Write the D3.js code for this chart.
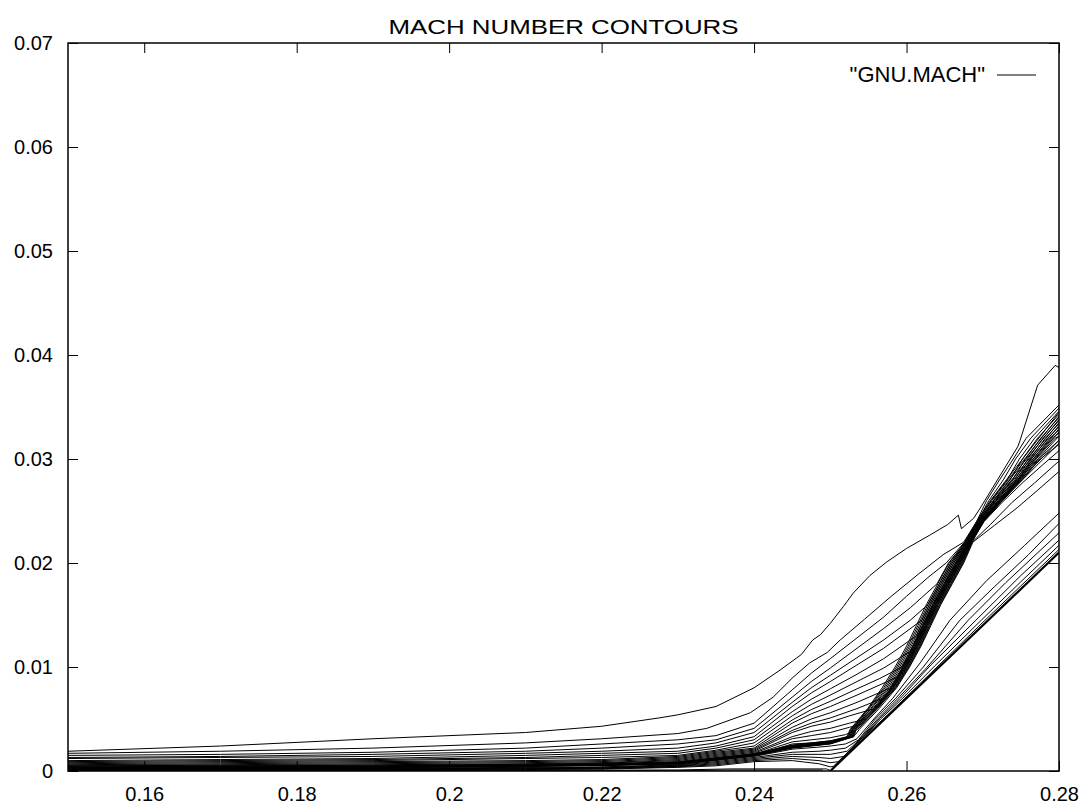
<!DOCTYPE html>
<html><head><meta charset="utf-8">
<script src="https://cdn.jsdelivr.net/npm/d3@7/dist/d3.min.js"></script>
<style>
body{margin:0;background:#fff}
text{font-family:"Liberation Sans",Arial,Helvetica,sans-serif;fill:#000}
</style>
</head><body>
<svg id="chart" width="1087" height="810"></svg>
<script>
// ---------- text / axes ----------
const chartTitle = "MACH NUMBER CONTOURS";
const legendLabel = '"GNU.MACH"';
const xDomain = [0.15, 0.28];
const yDomain = [0, 0.07];
const xTickValues = [0.16, 0.18, 0.20, 0.22, 0.24, 0.26, 0.28];
const xTickLabels = ["0.16", "0.18", "0.2", "0.22", "0.24", "0.26", "0.28"];
const yTickValues = [0, 0.01, 0.02, 0.03, 0.04, 0.05, 0.06, 0.07];
const yTickLabels = ["0", "0.01", "0.02", "0.03", "0.04", "0.05", "0.06", "0.07"];

// ---------- contour lines (x, y) ----------
const wedgeLine = [[0.25, 0], [0.28, 0.021]];

const outerContour = [[0.15,0.0019],[0.17,0.0024],[0.19,0.0031],[0.21,0.0037],[0.22,0.0043],[0.2275,0.0051],[0.23,0.0054],[0.235,0.0062],[0.24,0.008],[0.2434,0.0097],[0.2462,0.0112],[0.2477,0.0126],[0.2487,0.0131],[0.25,0.0142],[0.2517,0.0158],[0.253,0.0171],[0.2552,0.0188],[0.2574,0.0201],[0.26,0.0214],[0.2631,0.0227],[0.2654,0.0237],[0.2668,0.0246],[0.2672,0.0233],[0.2688,0.0243],[0.2696,0.0252],[0.2746,0.0312],[0.2749,0.0318],[0.2772,0.0371],[0.2795,0.039],[0.28,0.0388]];

// contours fanning out above the shock and merging into it
const shockContours = [
 [[0.15,0.0017],[0.17,0.0019],[0.19,0.0022],[0.21,0.0027],[0.22,0.0031],[0.23,0.0036],[0.2338,0.0041],[0.2395,0.0056],[0.2425,0.0071],[0.2451,0.009],[0.2473,0.0104],[0.2496,0.0114],[0.2513,0.0126],[0.2545,0.0146],[0.258,0.0168],[0.2615,0.0189],[0.2648,0.0208],[0.2675,0.022],[0.2692,0.024],[0.2705,0.026],[0.2722,0.028],[0.274,0.030],[0.2757,0.032],[0.28,0.0352]],
 [[0.15,0.0015],[0.17,0.0016],[0.19,0.0018],[0.21,0.0022],[0.22,0.0026],[0.23,0.003],[0.235,0.0034],[0.24,0.0046],[0.245,0.0078],[0.2475,0.0094],[0.25,0.0108],[0.2535,0.0128],[0.257,0.0148],[0.26,0.0168],[0.2628,0.0186],[0.2652,0.020],[0.2676,0.022],[0.2693,0.024],[0.2708,0.026],[0.2727,0.028],[0.2743,0.030],[0.2763,0.032],[0.28,0.0349]],
 [[0.15,0.0013],[0.17,0.0014],[0.19,0.0016],[0.21,0.0019],[0.22,0.0022],[0.23,0.0026],[0.235,0.003],[0.24,0.0041],[0.245,0.0071],[0.2475,0.0086],[0.25,0.0099],[0.2535,0.0118],[0.257,0.0137],[0.2605,0.0157],[0.264,0.018],[0.2655,0.020],[0.2677,0.022],[0.2694,0.024],[0.2711,0.026],[0.2732,0.028],[0.2748,0.030],[0.2768,0.032],[0.28,0.0346]],
 [[0.15,0.0012],[0.17,0.0013],[0.19,0.0014],[0.21,0.0017],[0.22,0.0019],[0.23,0.0022],[0.235,0.0027],[0.24,0.0037],[0.245,0.0066],[0.2475,0.008],[0.25,0.0092],[0.2535,0.0109],[0.257,0.0126],[0.2605,0.0145],[0.2628,0.016],[0.2643,0.018],[0.2658,0.020],[0.2678,0.022],[0.2695,0.024],[0.2714,0.026],[0.2736,0.028],[0.2752,0.030],[0.2772,0.032],[0.28,0.0343]],
 [[0.15,0.001],[0.17,0.0011],[0.19,0.0012],[0.21,0.0015],[0.22,0.0017],[0.23,0.0019],[0.235,0.0024],[0.24,0.0033],[0.245,0.0062],[0.2475,0.0075],[0.25,0.0086],[0.2535,0.0102],[0.257,0.0118],[0.262,0.0145],[0.263,0.016],[0.2645,0.018],[0.266,0.020],[0.2679,0.022],[0.2696,0.024],[0.2716,0.026],[0.2739,0.028],[0.2756,0.030],[0.2776,0.032],[0.28,0.034]],
 [[0.15,0.0009],[0.17,0.001],[0.19,0.0011],[0.21,0.0013],[0.22,0.0015],[0.23,0.0017],[0.235,0.0022],[0.24,0.003],[0.245,0.0057],[0.2475,0.0069],[0.25,0.0079],[0.2535,0.0093],[0.257,0.0108],[0.2613,0.013],[0.2619,0.014],[0.2632,0.016],[0.2647,0.018],[0.2662,0.020],[0.268,0.022],[0.2697,0.024],[0.2718,0.026],[0.2742,0.028],[0.2759,0.030],[0.2779,0.032],[0.28,0.0337]],
 [[0.15,0.0008],[0.17,0.0009],[0.19,0.001],[0.21,0.0012],[0.22,0.0013],[0.23,0.0015],[0.235,0.002],[0.24,0.0027],[0.245,0.0053],[0.2475,0.0064],[0.25,0.0073],[0.2535,0.0086],[0.257,0.0099],[0.2605,0.0115],[0.2608,0.012],[0.2621,0.014],[0.2634,0.016],[0.2649,0.018],[0.2664,0.020],[0.2681,0.022],[0.2698,0.024],[0.272,0.026],[0.2744,0.028],[0.2762,0.030],[0.2782,0.032],[0.28,0.0334]],
 [[0.15,0.0007],[0.17,0.0008],[0.19,0.0009],[0.21,0.001],[0.22,0.0011],[0.23,0.0014],[0.235,0.0019],[0.24,0.0024],[0.245,0.0049],[0.2475,0.0059],[0.25,0.0067],[0.2535,0.0079],[0.2565,0.0089],[0.2594,0.010],[0.2609,0.012],[0.2622,0.014],[0.2635,0.016],[0.265,0.018],[0.2665,0.020],[0.26815,0.022],[0.26985,0.024],[0.2721,0.026],[0.2746,0.028],[0.2764,0.030],[0.2785,0.032],[0.28,0.0331]],
 [[0.15,0.0006],[0.17,0.0007],[0.19,0.0008],[0.21,0.0009],[0.22,0.001],[0.23,0.0013],[0.235,0.0018],[0.24,0.0022],[0.245,0.0046],[0.2475,0.0055],[0.25,0.0062],[0.2535,0.0073],[0.2587,0.009],[0.2595,0.010],[0.261,0.012],[0.2623,0.014],[0.2636,0.016],[0.2651,0.018],[0.2666,0.020],[0.2682,0.022],[0.2699,0.024],[0.2722,0.026],[0.2747,0.028],[0.2766,0.030],[0.2788,0.032],[0.28,0.0328]],
 [[0.15,0.00055],[0.17,0.0006],[0.19,0.0007],[0.21,0.0008],[0.22,0.0009],[0.23,0.0012],[0.235,0.0017],[0.24,0.0021],[0.245,0.0042],[0.2475,0.005],[0.25,0.0056],[0.2535,0.0066],[0.2579,0.008],[0.2596,0.010],[0.2611,0.012],[0.2624,0.014],[0.2637,0.016],[0.2652,0.018],[0.2667,0.020],[0.26825,0.022],[0.26995,0.024],[0.2723,0.026],[0.2748,0.028],[0.2768,0.030],[0.2791,0.032],[0.28,0.0325]],
 [[0.15,0.0005],[0.17,0.00055],[0.19,0.0006],[0.21,0.0007],[0.22,0.0008],[0.23,0.0011],[0.235,0.0016],[0.24,0.002],[0.245,0.0039],[0.2475,0.0046],[0.25,0.0051],[0.2535,0.006],[0.2569,0.007],[0.258,0.008],[0.2597,0.010],[0.2612,0.012],[0.2625,0.014],[0.2638,0.016],[0.2653,0.018],[0.2668,0.020],[0.2683,0.022],[0.27,0.024],[0.2724,0.026],[0.2749,0.028],[0.277,0.030],[0.2795,0.032],[0.28,0.0322]],
 [[0.15,0.00045],[0.17,0.0005],[0.19,0.00055],[0.21,0.00065],[0.22,0.00075],[0.23,0.001],[0.235,0.0015],[0.24,0.0019],[0.245,0.0037],[0.2475,0.0043],[0.25,0.0047],[0.2525,0.0053],[0.2558,0.006],[0.2581,0.008],[0.2598,0.010],[0.2613,0.012],[0.2626,0.014],[0.2639,0.016],[0.2654,0.018],[0.2669,0.020],[0.26835,0.022],[0.27005,0.024],[0.2725,0.026],[0.275,0.028],[0.2773,0.030],[0.28,0.0318]],
 [[0.15,0.0004],[0.17,0.00045],[0.19,0.0005],[0.21,0.0006],[0.22,0.0007],[0.23,0.0009],[0.235,0.0014],[0.24,0.0018],[0.245,0.0033],[0.2475,0.0038],[0.25,0.0041],[0.2525,0.0046],[0.2547,0.005],[0.2559,0.006],[0.2582,0.008],[0.2599,0.010],[0.2614,0.012],[0.2627,0.014],[0.264,0.016],[0.2655,0.018],[0.267,0.020],[0.2684,0.022],[0.2701,0.024],[0.2726,0.026],[0.2752,0.028],[0.2772,0.0298],[0.28,0.0314]],
 [[0.15,0.00035],[0.17,0.0004],[0.19,0.00045],[0.21,0.00055],[0.22,0.00065],[0.23,0.0008],[0.235,0.0013],[0.24,0.0017],[0.245,0.0031],[0.2475,0.0034],[0.25,0.0037],[0.2525,0.0042],[0.2541,0.0045],[0.256,0.006],[0.2583,0.008],[0.26,0.010],[0.2615,0.012],[0.2628,0.014],[0.2641,0.016],[0.2656,0.018],[0.2671,0.020],[0.2685,0.022],[0.2702,0.024],[0.2725,0.0258],[0.2752,0.0277],[0.2778,0.0294],[0.28,0.0308]],
 [[0.15,0.0003],[0.17,0.00035],[0.19,0.0004],[0.21,0.0005],[0.22,0.0006],[0.23,0.0007],[0.235,0.0012],[0.24,0.0016],[0.245,0.0028],[0.2475,0.003],[0.25,0.0032],[0.252,0.0035],[0.2536,0.004],[0.2562,0.006],[0.2585,0.008],[0.2602,0.010],[0.2617,0.012],[0.263,0.014],[0.2643,0.016],[0.2658,0.018],[0.2673,0.020],[0.2686,0.022],[0.271,0.0237],[0.2738,0.0258],[0.2768,0.0277],[0.28,0.0298]],
 [[0.15,0.00025],[0.17,0.0003],[0.19,0.00035],[0.21,0.00045],[0.22,0.00055],[0.23,0.00065],[0.235,0.0011],[0.24,0.0015],[0.245,0.0026],[0.2475,0.0027],[0.25,0.0029],[0.2518,0.0031],[0.2533,0.0035],[0.2538,0.004],[0.2564,0.006],[0.2587,0.008],[0.2604,0.010],[0.2619,0.012],[0.2632,0.014],[0.2645,0.016],[0.266,0.018],[0.2675,0.020],[0.2687,0.022],[0.2715,0.0236],[0.2745,0.0253],[0.2772,0.027],[0.28,0.0288]]
];

// tightly packed contours forming the dark core of the shock
const coreContours = [
 [[0.15,0.00034],[0.19,0.00044],[0.22,0.00064],[0.23,0.00085],[0.235,0.00125],[0.24,0.00165],[0.245,0.0025],[0.25,0.0029],[0.2522,0.0033],[0.2526,0.004],[0.2549,0.006],[0.2568,0.008],[0.2585,0.010],[0.26,0.012],[0.2613,0.014],[0.2626,0.016],[0.2641,0.018],[0.2656,0.020],[0.2677,0.022],[0.2692,0.024],[0.271,0.026],[0.2731,0.028],[0.28,0.0345]],
 [[0.15,0.00032],[0.19,0.00042],[0.22,0.00062],[0.23,0.00083],[0.235,0.00123],[0.24,0.00163],[0.245,0.00245],[0.25,0.00285],[0.2523,0.0033],[0.2527,0.004],[0.255,0.006],[0.257,0.008],[0.2587,0.010],[0.2602,0.012],[0.2615,0.014],[0.2628,0.016],[0.2643,0.018],[0.2658,0.020],[0.2678,0.022],[0.2693,0.024],[0.2712,0.026],[0.2733,0.028],[0.28,0.0341]],
 [[0.15,0.0003],[0.19,0.0004],[0.22,0.0006],[0.23,0.0008],[0.235,0.0012],[0.24,0.0016],[0.245,0.0024],[0.25,0.0028],[0.2524,0.0033],[0.2528,0.004],[0.2551,0.006],[0.2572,0.008],[0.2589,0.010],[0.2604,0.012],[0.2617,0.014],[0.263,0.016],[0.2645,0.018],[0.266,0.020],[0.2679,0.022],[0.2694,0.024],[0.2714,0.026],[0.2735,0.028],[0.28,0.0338]],
 [[0.15,0.00029],[0.19,0.00039],[0.22,0.00059],[0.23,0.00079],[0.235,0.00118],[0.24,0.00158],[0.245,0.00237],[0.25,0.00277],[0.2525,0.0033],[0.2529,0.004],[0.2553,0.006],[0.2574,0.008],[0.2591,0.010],[0.2606,0.012],[0.2619,0.014],[0.2632,0.016],[0.2647,0.018],[0.2662,0.020],[0.268,0.022],[0.2695,0.024],[0.2715,0.026],[0.2738,0.028],[0.28,0.0335]],
 [[0.15,0.00028],[0.19,0.00038],[0.22,0.00058],[0.23,0.00078],[0.235,0.00116],[0.24,0.00156],[0.245,0.00234],[0.25,0.00274],[0.2526,0.0033],[0.2529,0.004],[0.2554,0.006],[0.2576,0.008],[0.2593,0.010],[0.2608,0.012],[0.2621,0.014],[0.2634,0.016],[0.2649,0.018],[0.2664,0.020],[0.2681,0.022],[0.2696,0.024],[0.2717,0.026],[0.274,0.028],[0.28,0.0332]],
 [[0.15,0.00027],[0.19,0.00037],[0.22,0.00057],[0.23,0.00077],[0.235,0.00114],[0.24,0.00154],[0.245,0.00231],[0.25,0.00271],[0.2527,0.0033],[0.253,0.004],[0.2556,0.006],[0.2578,0.008],[0.2595,0.010],[0.261,0.012],[0.2623,0.014],[0.2636,0.016],[0.2651,0.018],[0.2666,0.020],[0.2682,0.022],[0.2697,0.024],[0.2718,0.026],[0.2743,0.028],[0.28,0.0329]],
 [[0.15,0.00026],[0.19,0.00036],[0.22,0.00056],[0.23,0.00076],[0.235,0.00112],[0.24,0.00152],[0.245,0.00228],[0.25,0.00268],[0.2528,0.0033],[0.2531,0.004],[0.2557,0.006],[0.258,0.008],[0.2597,0.010],[0.2612,0.012],[0.2625,0.014],[0.2638,0.016],[0.2653,0.018],[0.2668,0.020],[0.2683,0.022],[0.2698,0.024],[0.272,0.026],[0.2745,0.028],[0.28,0.0326]],
 [[0.15,0.00025],[0.19,0.00035],[0.22,0.00055],[0.23,0.00075],[0.235,0.0011],[0.24,0.0015],[0.245,0.00225],[0.25,0.00265],[0.2529,0.0033],[0.2532,0.004],[0.2558,0.006],[0.2582,0.008],[0.2599,0.010],[0.2614,0.012],[0.2627,0.014],[0.264,0.016],[0.2655,0.018],[0.267,0.020],[0.2684,0.022],[0.2699,0.024],[0.2722,0.026],[0.2747,0.028],[0.28,0.0322]],
 [[0.15,0.00024],[0.19,0.00034],[0.22,0.00054],[0.23,0.00074],[0.235,0.00108],[0.24,0.00148],[0.245,0.00222],[0.25,0.00262],[0.253,0.0033],[0.2533,0.004],[0.256,0.006],[0.2584,0.008],[0.2601,0.010],[0.2616,0.012],[0.2629,0.014],[0.2642,0.016],[0.2657,0.018],[0.2672,0.020],[0.2685,0.022],[0.27,0.024],[0.2723,0.026],[0.275,0.028],[0.28,0.0318]],
 [[0.15,0.00023],[0.19,0.00033],[0.22,0.00053],[0.23,0.00073],[0.235,0.00106],[0.24,0.00146],[0.245,0.0022],[0.25,0.0026],[0.2531,0.0033],[0.2534,0.004],[0.2561,0.006],[0.2586,0.008],[0.2603,0.010],[0.2618,0.012],[0.2631,0.014],[0.2644,0.016],[0.2659,0.018],[0.2674,0.020],[0.2686,0.022],[0.2701,0.024],[0.2725,0.026],[0.2752,0.028],[0.28,0.0315]]
];

// contours between the shock and the wedge
const wedgeContours = [
 [[0.15,0.00022],[0.19,0.00027],[0.21,0.00035],[0.22,0.0004],[0.23,0.0006],[0.235,0.001],[0.24,0.0014],[0.245,0.0021],[0.2485,0.0023],[0.25,0.0024],[0.252,0.0026],[0.2535,0.0031],[0.2557,0.005],[0.2582,0.007],[0.2618,0.0104],[0.2657,0.0145],[0.2705,0.0183],[0.2755,0.0217],[0.28,0.0248]],
 [[0.15,0.0002],[0.19,0.00024],[0.21,0.0003],[0.22,0.00035],[0.23,0.00055],[0.235,0.0009],[0.24,0.0013],[0.245,0.0018],[0.2485,0.0019],[0.25,0.002],[0.252,0.0022],[0.2537,0.003],[0.2559,0.005],[0.2586,0.007],[0.2622,0.01],[0.267,0.0145],[0.2715,0.0177],[0.276,0.0208],[0.28,0.0238]],
 [[0.15,0.00017],[0.19,0.0002],[0.21,0.00026],[0.22,0.0003],[0.23,0.0005],[0.235,0.0008],[0.24,0.0012],[0.245,0.0016],[0.2485,0.0016],[0.25,0.0016],[0.2522,0.0019],[0.2538,0.003],[0.2562,0.005],[0.2589,0.007],[0.2626,0.0099],[0.2681,0.0145],[0.273,0.0181],[0.28,0.0229]],
 [[0.15,0.00014],[0.19,0.00017],[0.21,0.00022],[0.22,0.00026],[0.23,0.00045],[0.235,0.0007],[0.24,0.0011],[0.245,0.0014],[0.2485,0.0013],[0.25,0.0012],[0.2518,0.0014],[0.2539,0.003],[0.2564,0.005],[0.2592,0.007],[0.2632,0.0102],[0.2691,0.0145],[0.275,0.0188],[0.28,0.0222]],
 [[0.15,0.00011],[0.19,0.00013],[0.21,0.00018],[0.22,0.00022],[0.23,0.0004],[0.235,0.0006],[0.24,0.001],[0.245,0.0012],[0.2485,0.001],[0.25,0.0008],[0.2511,0.0009],[0.254,0.003],[0.2566,0.005],[0.2595,0.007],[0.2637,0.0101],[0.2698,0.0145],[0.275,0.0182],[0.28,0.0217]],
 [[0.15,0.00008],[0.19,0.0001],[0.21,0.00014],[0.22,0.00018],[0.23,0.00035],[0.235,0.0005],[0.24,0.0009],[0.245,0.001],[0.2485,0.0007],[0.25,0.0004],[0.2504,0.00045],[0.2541,0.0031],[0.2568,0.0049],[0.2598,0.007],[0.264,0.01],[0.2703,0.0145],[0.275,0.0178],[0.28,0.0213]]
];

const wallContours = [
 [[0.15,0.00005],[0.2,0.00005],[0.23,0.0001],[0.237,0.0002],[0.2495,0.0002],[0.25,0.00005]],
 [[0.15,0.00002],[0.23,0.00003],[0.237,0.0001],[0.249,0.0001]]
];

// ---------- drawing ----------
const m = {left: 68, right: 1059, top: 43, bottom: 771};
const svg = d3.select("#chart");
const x = d3.scaleLinear().domain(xDomain).range([m.left, m.right]);
const y = d3.scaleLinear().domain(yDomain).range([m.bottom, m.top]);

svg.append("defs").append("clipPath").attr("id", "plotClip")
  .append("rect").attr("x", m.left).attr("y", m.top)
  .attr("width", m.right - m.left).attr("height", m.bottom - m.top);

const line = d3.line().x(d => x(d[0])).y(d => y(d[1]));
const plot = svg.append("g").attr("clip-path", "url(#plotClip)");

const allContours = [outerContour, ...shockContours, ...coreContours, ...wedgeContours, ...wallContours];
plot.selectAll("path.contour").data(allContours).enter().append("path")
  .attr("class", "contour").attr("d", line)
  .attr("fill", "none").attr("stroke", "#000").attr("stroke-width", 1);

plot.append("path").attr("d", line(wedgeLine))
  .attr("fill", "none").attr("stroke", "#000").attr("stroke-width", 2.2);

// axes with inward ticks on all four sides
const fontSize = 20;
const bottomAxis = d3.axisBottom(x).tickValues(xTickValues)
  .tickFormat((d, i) => xTickLabels[i]).tickSizeInner(-10).tickSizeOuter(0).tickPadding(16);
const leftAxis = d3.axisLeft(y).tickValues(yTickValues)
  .tickFormat((d, i) => yTickLabels[i]).tickSizeInner(-10).tickSizeOuter(0).tickPadding(15);
const topAxis = d3.axisTop(x).tickValues(xTickValues).tickFormat("").tickSizeInner(-10).tickSizeOuter(0);
const rightAxis = d3.axisRight(y).tickValues(yTickValues).tickFormat("").tickSizeInner(-10).tickSizeOuter(0);

function styleAxis(g) {
  g.select(".domain").remove();
  g.selectAll("line").attr("stroke", "#000").attr("stroke-width", 1);
  g.selectAll("text").attr("font-size", fontSize)
   .attr("font-family", '"Liberation Sans", Arial, sans-serif').attr("fill", "#000");
}
svg.append("g").attr("transform", `translate(0,${m.bottom})`).call(bottomAxis).call(styleAxis);
svg.append("g").attr("transform", `translate(${m.left},0)`).call(leftAxis).call(styleAxis);
svg.append("g").attr("transform", `translate(0,${m.top})`).call(topAxis).call(styleAxis);
svg.append("g").attr("transform", `translate(${m.right},0)`).call(rightAxis).call(styleAxis);

svg.append("rect").attr("x", m.left).attr("y", m.top)
  .attr("width", m.right - m.left).attr("height", m.bottom - m.top)
  .attr("fill", "none").attr("stroke", "#000").attr("stroke-width", 1.5);

svg.append("text").attr("x", (m.left + m.right) / 2).attr("y", 34)
  .attr("text-anchor", "middle").attr("font-size", 21)
  .attr("textLength", 350).attr("lengthAdjust", "spacingAndGlyphs").text(chartTitle);

svg.append("text").attr("x", 985).attr("y", 82)
  .attr("text-anchor", "end").attr("font-size", 22).text(legendLabel);
svg.append("line").attr("x1", 997).attr("x2", 1036).attr("y1", 75).attr("y2", 75)
  .attr("stroke", "#000").attr("stroke-width", 1);
</script>
</body></html>
